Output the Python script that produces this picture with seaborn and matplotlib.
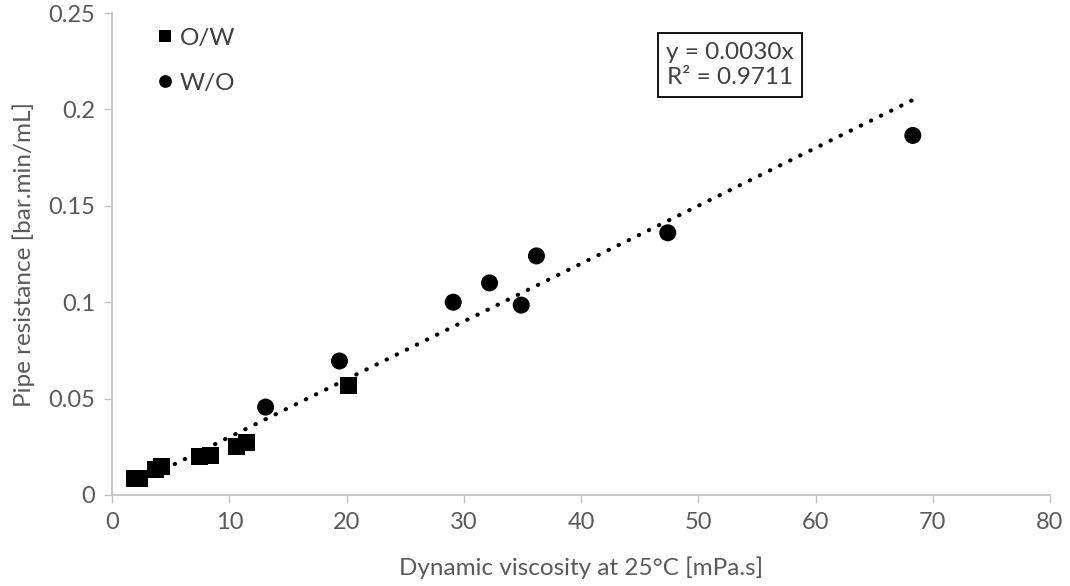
import numpy as np
import pandas as pd
import matplotlib.pyplot as plt
import seaborn as sns

# data
ow_visc = [1.9, 2.3, 3.7, 4.2, 7.5, 8.4, 10.6, 11.5, 20.2]
ow_res = [0.0083, 0.0088, 0.0130, 0.0150, 0.0202, 0.0207, 0.0249, 0.0271, 0.0570]
wo_visc = [13.1, 19.4, 29.1, 32.2, 34.9, 36.2, 47.4, 68.3]
wo_res = [0.0456, 0.0695, 0.1000, 0.1100, 0.0985, 0.1240, 0.1360, 0.1865]
slope = 0.0030
r2_text = "0.9711"

df = pd.concat([
    pd.DataFrame({'visc': ow_visc, 'res': ow_res, 'type': 'O/W'}),
    pd.DataFrame({'visc': wo_visc, 'res': wo_res, 'type': 'W/O'}),
])

sns.set_style("white")
plt.rcParams['font.family'] = ['Lato', 'DejaVu Sans']
grey = '#595959'

fig = plt.figure(figsize=(10.7, 5.86), dpi=100)
ax = fig.add_axes([0.1047, 0.1553, 0.8766, 0.8225])

# trendline through origin over the data range
xs = np.array([df['visc'].min(), df['visc'].max()])
ax.plot(xs, slope * xs, color='black', lw=3, linestyle=(0, (0.1, 2.6)),
        dash_capstyle='round', zorder=1)

sns.scatterplot(data=df, x='visc', y='res', style='type',
                markers={'O/W': 's', 'W/O': 'o'}, color='black',
                s=150, edgecolor='black', linewidth=0, ax=ax, zorder=2)

ax.set_xlim(0, 80)
ax.set_ylim(0, 0.25)
ax.set_xticks(range(0, 81, 10))
ax.set_yticks([0, 0.05, 0.1, 0.15, 0.2, 0.25])
ax.set_yticklabels(['0', '0.05', '0.1', '0.15', '0.2', '0.25'])
ax.set_xlabel('Dynamic viscosity at 25°C [mPa.s]', fontsize=17.5, color=grey, labelpad=17)
ax.set_ylabel('Pipe resistance [bar.min/mL]', fontsize=17.5, color=grey, labelpad=10)
ax.tick_params(axis='both', labelsize=17, length=6, width=1,
               direction='out', bottom=True, left=True, pad=6)
ax.tick_params(axis='x', colors='#bfbfbf', labelcolor=grey)
ax.tick_params(axis='y', colors='#bfbfbf', labelcolor=grey)
for side in ['top', 'right']:
    ax.spines[side].set_visible(False)
for side in ['left', 'bottom']:
    ax.spines[side].set_color('#bfbfbf')
    ax.spines[side].set_linewidth(1.2)

leg = ax.legend(loc='upper left', bbox_to_anchor=(0.018, 1.015), frameon=False,
                fontsize=17.5, handletextpad=0.0, handlelength=1.2,
                labelspacing=1.0, markerscale=0.75)
for t in leg.get_texts():
    t.set_color('#404040')

ax.text(52.7, 0.223, f"y = {slope:.4f}x\nR² = {r2_text}", fontsize=17.5,
        color='#404040', ha='center', va='center', linespacing=1.25,
        bbox=dict(boxstyle='square,pad=0.35', fc='white', ec='black', lw=1.3))

fig.savefig('out.png', dpi=100)
